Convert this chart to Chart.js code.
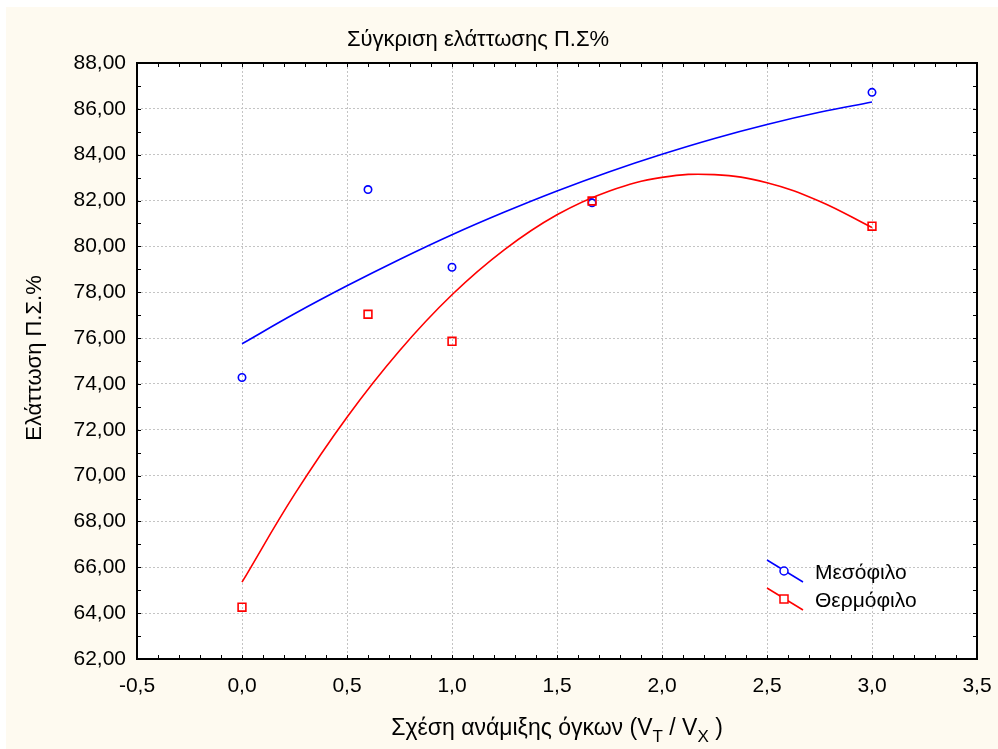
<!DOCTYPE html>
<html>
<head>
<meta charset="utf-8">
<script src="https://cdn.jsdelivr.net/npm/chart.js@4"></script>
<style>
  html, body { margin: 0; padding: 0; background: #fff; }
</style>
</head>
<body>
<canvas id="chart" width="998" height="749"></canvas>
<script>
(function () {
    "use strict";

    // data
    const xTicks = [-0.5, 0, 0.5, 1, 1.5, 2, 2.5, 3, 3.5];
    const yTicks = [62, 64, 66, 68, 70, 72, 74, 76, 78, 80, 82, 84, 86, 88];

    const ratioX = [0, 0.6, 1, 1.667, 3];
    const mesophilic = [74.28, 82.48, 79.09, 81.9, 86.72];
    const thermophilic = [64.26, 77.04, 75.86, 81.98, 80.88];

    // fitted curves, read at every 0.25
    const curveX = [0, 0.25, 0.5, 0.75, 1, 1.25, 1.5, 1.75, 2, 2.25, 2.5, 2.75, 3];
    const mesoFit = [75.75, 77.06, 78.28, 79.43, 80.51, 81.50, 82.42, 83.26, 84.02, 84.71, 85.32, 85.85, 86.30];
    const thermoFit = [65.35, 69.18, 72.55, 75.45, 77.89, 79.86, 81.38, 82.42, 83.01, 83.13, 82.78, 81.97, 80.82];

    const labels = ["Μεσόφιλο", "Θερμόφιλο"];
    const title = "Σύγκριση ελάττωσης Π.Σ%";
    const yTitle = "Ελάττωση Π.Σ.%";

    const BLUE = "#0000ff";
    const RED = "#ff0000";
    const CREAM = "#fefaf0";
    const FONT = "'Liberation Sans', Arial, sans-serif";

    const pts = (xs, ys) => xs.map((x, i) => ({ x: x, y: ys[i] }));
    const comma = d => v => Number(v).toFixed(d).replace(".", ",");

    // background, plot border, minor ticks, texts, legend
    const decor = {
        id: "decor",
        beforeDraw(chart) {
            const { ctx, chartArea: a } = chart;
            ctx.save();
            ctx.fillStyle = "#fff";
            ctx.fillRect(0, 0, chart.width, chart.height);
            ctx.fillStyle = CREAM;
            ctx.fillRect(6, 7, chart.width - 6, chart.height - 7);
            ctx.fillStyle = "#fff";
            ctx.fillRect(a.left, a.top, a.right - a.left, a.bottom - a.top);
            ctx.restore();
        },
        afterDraw(chart) {
            const { ctx, chartArea: a } = chart;
            const xs = chart.scales.x, ys = chart.scales.y;
            ctx.save();

            // minor ticks pointing inward
            ctx.strokeStyle = "#000";
            ctx.lineWidth = 1;
            ctx.beginPath();
            for (let i = 0; i <= 40; i++) {
                const px = Math.round(xs.getPixelForValue(-0.5 + i * 0.1)) + 0.5;
                ctx.moveTo(px, a.bottom); ctx.lineTo(px, a.bottom - 4);
                ctx.moveTo(px, a.top); ctx.lineTo(px, a.top + 4);
            }
            for (let v = 62; v <= 88; v++) {
                const py = Math.round(ys.getPixelForValue(v)) + 0.5;
                ctx.moveTo(a.left, py); ctx.lineTo(a.left + 4, py);
                ctx.moveTo(a.right, py); ctx.lineTo(a.right - 4, py);
            }
            ctx.stroke();

            // frame
            ctx.lineWidth = 2;
            ctx.strokeRect(a.left, a.top, a.right - a.left, a.bottom - a.top);

            // title
            ctx.fillStyle = "#000";
            ctx.textBaseline = "alphabetic";
            ctx.textAlign = "center";
            ctx.font = "22px " + FONT;
            ctx.fillText(title, 478, 46);

            // y axis title
            ctx.save();
            ctx.translate(41, 358);
            ctx.rotate(-Math.PI / 2);
            ctx.font = "22px " + FONT;
            ctx.fillText(yTitle, 0, 0);
            ctx.restore();

            // x axis title with subscripts
            const parts = [
                ["Σχέση ανάμιξης όγκων (V", 0, 23],
                ["T", 7, 17],
                [" / V", 0, 23],
                ["X", 7, 17],
                [" )", 0, 23]
            ];
            let total = 0;
            parts.forEach(p => { ctx.font = p[2] + "px " + FONT; total += ctx.measureText(p[0]).width; });
            let cx = (a.left + a.right) / 2 - total / 2;
            ctx.textAlign = "left";
            parts.forEach(p => {
                ctx.font = p[2] + "px " + FONT;
                ctx.fillText(p[0], cx, 735 + p[1]);
                cx += ctx.measureText(p[0]).width;
            });

            // legend
            const legend = [
                { text: labels[0], color: BLUE, style: "circle", y: 571 },
                { text: labels[1], color: RED, style: "rect", y: 599 }
            ];
            legend.forEach(l => {
                ctx.strokeStyle = l.color;
                ctx.lineWidth = 1.5;
                ctx.beginPath();
                ctx.moveTo(767, l.y - 11);
                ctx.lineTo(803, l.y + 11);
                ctx.stroke();
                ctx.fillStyle = "#fff";
                ctx.lineWidth = 1.5;
                ctx.beginPath();
                if (l.style === "circle") {
                    ctx.arc(784, l.y, 4, 0, Math.PI * 2);
                } else {
                    ctx.rect(780, l.y - 4, 8, 8);
                }
                ctx.fill();
                ctx.stroke();
                ctx.fillStyle = "#000";
                ctx.font = "21px " + FONT;
                ctx.textBaseline = "middle";
                ctx.fillText(l.text, 815, l.y + 2);
            });
            ctx.restore();
        }
    };

    new Chart(document.getElementById("chart").getContext("2d"), {
        type: "scatter",
        data: {
            datasets: [
                {
                    label: labels[1],
                    data: pts(ratioX, thermophilic),
                    pointStyle: "rect",
                    pointRadius: 5.5,
                    borderColor: RED,
                    backgroundColor: "rgba(255,255,255,0)",
                    borderWidth: 1.6,
                    order: 0
                },
                {
                    label: labels[0],
                    data: pts(ratioX, mesophilic),
                    pointStyle: "circle",
                    pointRadius: 3.7,
                    borderColor: BLUE,
                    backgroundColor: "rgba(255,255,255,0)",
                    borderWidth: 1.6,
                    order: 1
                },
                {
                    label: labels[0] + " fit",
                    data: pts(curveX, mesoFit),
                    showLine: true,
                    tension: 0.4,
                    pointRadius: 0,
                    borderColor: BLUE,
                    borderWidth: 1.6,
                    order: 2
                },
                {
                    label: labels[1] + " fit",
                    data: pts(curveX, thermoFit),
                    showLine: true,
                    tension: 0.4,
                    pointRadius: 0,
                    borderColor: RED,
                    borderWidth: 1.6,
                    order: 3
                }
            ]
        },
        options: {
            responsive: false,
            animation: false,
            devicePixelRatio: 1,
            layout: { padding: { left: 0, top: 63, right: 21, bottom: 0 } },
            plugins: {
                legend: { display: false },
                title: { display: false },
                tooltip: { enabled: false }
            },
            scales: {
                x: {
                    type: "linear",
                    min: -0.5,
                    max: 3.5,
                    afterBuildTicks: s => { s.ticks = xTicks.map(v => ({ value: v })); },
                    afterFit: s => { s.height = 90; s.paddingLeft = 0; s.paddingRight = 0; },
                    grid: { color: "#c4c4c4", lineWidth: 1, drawTicks: false },
                    border: { display: false, dash: [2, 2] },
                    ticks: {
                        color: "#000",
                        padding: 15,
                        maxRotation: 0,
                        font: { family: FONT, size: 21 },
                        callback: comma(1)
                    }
                },
                y: {
                    type: "linear",
                    min: 62,
                    max: 88,
                    afterBuildTicks: s => { s.ticks = yTicks.map(v => ({ value: v })); },
                    afterFit: s => { s.width = 137; s.paddingTop = 0; s.paddingBottom = 0; },
                    grid: { color: "#c4c4c4", lineWidth: 1, drawTicks: false },
                    border: { display: false, dash: [2, 2] },
                    ticks: {
                        color: "#000",
                        padding: 11,
                        font: { family: FONT, size: 21 },
                        callback: comma(2)
                    }
                }
            }
        },
        plugins: [decor]
    });
})();
</script>
</body>
</html>
